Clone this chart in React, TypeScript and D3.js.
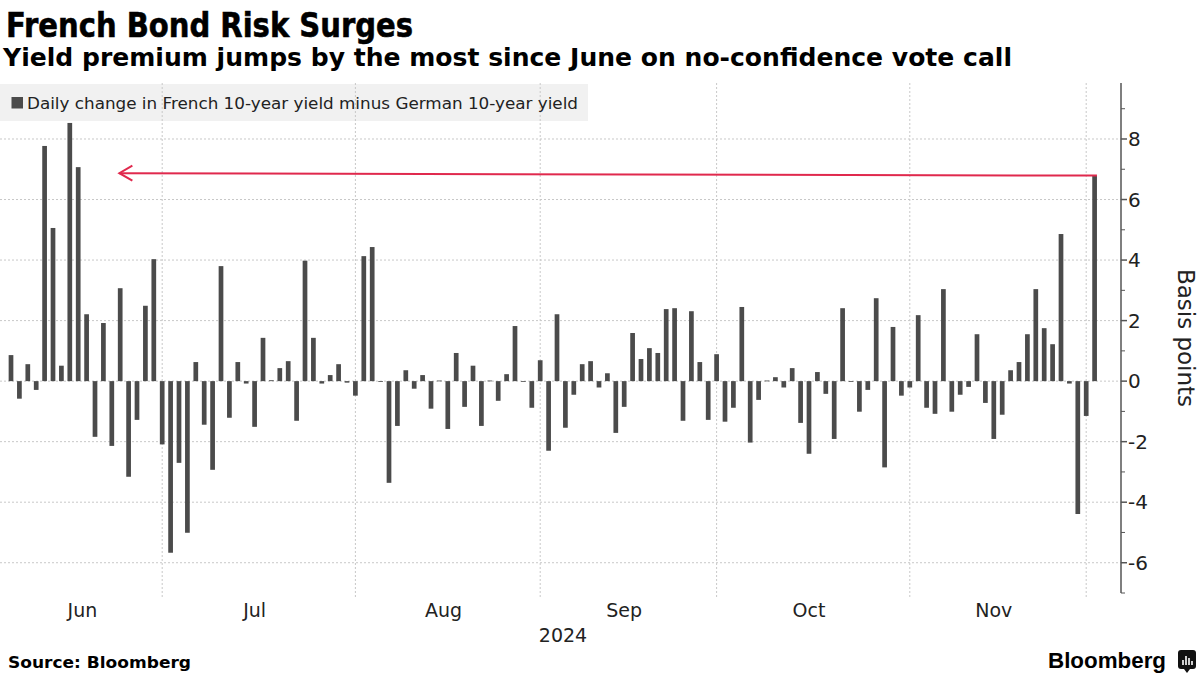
import React from "react";
import * as d3 from "d3";

// ---- Data ----
const values: number[] = [
  0.86, -0.58, 0.56, -0.29, 7.77, 5.06, 0.51, 8.53, 7.07, 2.21,
  -1.84, 1.92, -2.14, 3.07, -3.16, -1.28, 2.49, 4.03, -2.09, -5.67,
  -2.7, -5.01, 0.63, -1.44, -2.93, 3.8, -1.21, 0.63, -0.08, -1.51,
  1.43, 0.03, 0.43, 0.66, -1.31, 3.98, 1.43, -0.08, 0.2, 0.56,
  -0.05, -0.48, 4.13, 4.43, -0.02, -3.36, -1.48, 0.36, -0.25, 0.2,
  -0.91, 0.02, -1.58, 0.93, -0.85, 0.51, -1.48, 0.02, -0.65, 0.23,
  1.82, -0.02, -0.88, 0.69, -2.3, 2.21, -1.54, -0.45, 0.56, 0.66,
  -0.21, 0.26, -1.71, -0.85, 1.59, 0.73, 1.09, 0.93, 2.38, 2.41,
  -1.31, 2.31, 0.63, -1.28, 0.89, -1.34, -0.88, 2.45, -2.03, -0.62,
  0.02, 0.13, -0.21, 0.43, -1.38, -2.4, 0.3, -0.42, -1.91, 2.41,
  -0.02, -1.01, -0.29, 2.74, -2.85, 1.79, -0.48, -0.21, 2.18, -0.88,
  -1.08, 3.04, -1.01, -0.45, -0.19, 1.55, -0.72, -1.91, -1.11, 0.36,
  0.63, 1.55, 3.04, 1.75, 1.22, 4.86, -0.08, -4.39, -1.15, 6.79,
];
const monthLabels = ["Jun", "Jul", "Aug", "Sep", "Oct", "Nov"];
// index of the first bar of each month (Jun..Dec)
const monthStarts = [0, 18, 41, 63, 84, 107, 128];
const yearLabel = "2024";
const yMajorTicks = [-6, -4, -2, 0, 2, 4, 6, 8];
const yMinorTicks = [-7, -5, -3, -1, 1, 3, 5, 7, 9];
const arrowToIndex = 12.9;
const arrowToValue = 6.87;

const title = "French Bond Risk Surges";
const subtitle = "Yield premium jumps by the most since June on no-confidence vote call";
const legendText = "Daily change in French 10-year yield minus German 10-year yield";
const yTitle = "Basis points";
const source = "Source: Bloomberg";

const FONT = "'DejaVu Sans', Verdana, sans-serif";

export default function App() {
  const W = 1200, H = 675;
  const plotLeft = 0, axisX = 1121, top = 83, bottom = 593;
  const y = d3.scaleLinear().domain([-7, 9.85]).range([bottom, top]);
  const x = d3
    .scaleBand<number>()
    .domain(d3.range(values.length))
    .range([6.8, 6.8 + 8.4 * values.length])
    .paddingInner(0.44)
    .paddingOuter(0.22);
  const bw = x.bandwidth();
  const cx = (i: number) => (x(Math.floor(i)) as number) + bw / 2 + (i - Math.floor(i)) * x.step();
  const last = values.length - 1;

  const gridColor = "#c8c8c8";
  const barColor = "#4b4b4b";
  const red = "#e0294d";

  const ax1 = cx(arrowToIndex);
  const ay1 = y(arrowToValue);
  const ax0 = (x(last) as number) + bw;
  const ay0 = y(values[last]);

  return (
    <svg
      width={W}
      height={H}
      style={{ position: "absolute", left: 0, top: 0, background: "#fff" }}
      fontFamily={FONT}
    >
      {/* titles */}
      <text x={6} y={36.5} fontSize={34} fontWeight="bold" fill="#000" stroke="#000" strokeWidth={0.6} textLength={407} lengthAdjust="spacingAndGlyphs">
        {title}
      </text>
      <text x={3} y={65.5} fontSize={25} fontWeight="bold" fill="#000" textLength={1009} lengthAdjust="spacingAndGlyphs">
        {subtitle}
      </text>

      {/* legend background */}
      <rect x={0} y={84} width={588} height={37} fill="#f1f1f1" />

      {/* horizontal gridlines */}
      {yMajorTicks.map((t) => (
        <line key={"h" + t} x1={plotLeft} x2={axisX} y1={y(t)} y2={y(t)} stroke={gridColor} strokeWidth={1} strokeDasharray="2,2" />
      ))}
      {/* vertical gridlines */}
      {monthStarts.slice(1).map((s) => (
        <line key={"v" + s} x1={cx(s)} x2={cx(s)} y1={top} y2={bottom + 4} stroke={gridColor} strokeWidth={1} strokeDasharray="2,2" />
      ))}

      {/* legend */}
      <rect x={11.5} y={97} width={11.5} height={11.5} fill={barColor} />
      <text x={27} y={109} fontSize={16} fill="#222" textLength={551} lengthAdjust="spacingAndGlyphs">
        {legendText}
      </text>

      {/* bars */}
      {values.map((v, i) => (
        <rect
          key={i}
          x={x(i) as number}
          width={bw}
          y={y(Math.max(0, v))}
          height={Math.max(0.8, Math.abs(y(v) - y(0)))}
          fill={barColor}
        />
      ))}

      {/* annotation arrow */}
      <line x1={ax0} y1={ay0} x2={ax1} y2={ay1} stroke={red} strokeWidth={2} />
      <polyline
        points={`${ax1 + 13},${ay1 - 7.5} ${ax1},${ay1} ${ax1 + 13},${ay1 + 7.5}`}
        fill="none"
        stroke={red}
        strokeWidth={2}
      />

      {/* y axis */}
      <line x1={axisX} x2={axisX} y1={top} y2={bottom} stroke="#555" strokeWidth={1.5} />
      {yMajorTicks.map((t) => (
        <g key={"yt" + t}>
          <line x1={axisX} x2={axisX + 6} y1={y(t)} y2={y(t)} stroke="#555" strokeWidth={1.5} />
          <text x={axisX + 7} y={y(t)} dy="0.36em" fontSize={20} fill="#222">
            {t < 0 ? "-" + Math.abs(t) : String(t)}
          </text>
        </g>
      ))}
      {yMinorTicks.map((t) => (
        <line key={"ym" + t} x1={axisX} x2={axisX + 4} y1={y(t)} y2={y(t)} stroke="#555" strokeWidth={1} />
      ))}
      <text
        transform={`translate(1178,338) rotate(90)`}
        textAnchor="middle"
        fontSize={23}
        fill="#222"
      >
        {yTitle}
      </text>

      {/* x axis labels */}
      {monthLabels.map((m, k) => {
        const s = monthStarts[k];
        const e = monthStarts[k + 1] - 1;
        return (
          <text key={m} x={(cx(s) + cx(e)) / 2} y={617} textAnchor="middle" fontSize={19} fill="#222">
            {m}
          </text>
        );
      })}
      <text x={563} y={642} textAnchor="middle" fontSize={19} fill="#222">
        {yearLabel}
      </text>

      {/* footer */}
      <text x={8} y={668} fontSize={16.5} fontWeight="bold" fill="#000" textLength={183} lengthAdjust="spacingAndGlyphs">
        {source}
      </text>
      <text x={1048} y={668} fontSize={22} fontWeight="bold" fill="#000" textLength={118} lengthAdjust="spacingAndGlyphs" fontFamily="'Liberation Sans', Arial, sans-serif">
        Bloomberg
      </text>
      <rect x={1178} y={650} width={18} height={19} rx={3} fill="#111" />
      <path d="M1183,660v5M1186,656v9M1189,658v7M1192,661v4" stroke="#fff" strokeWidth={1.6} />
      <path d="M1184,669l3,4l3,-4z" fill="#111" />
    </svg>
  );
}
